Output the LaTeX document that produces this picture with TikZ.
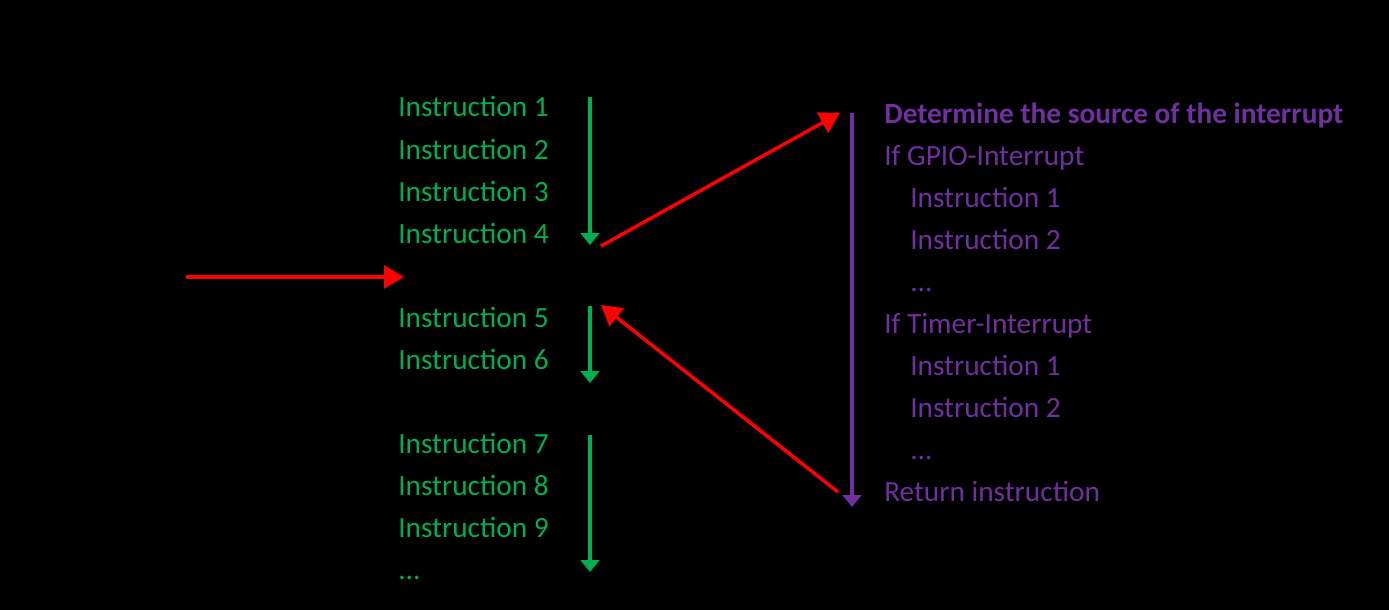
\documentclass[tikz,border=0pt]{standalone}
\usepackage{fontspec}
\setmainfont{Carlito}
\usetikzlibrary{arrows.meta}
\definecolor{instrgreen}{RGB}{0,176,80}
\definecolor{isrpurple}{RGB}{112,48,160}
\definecolor{irqred}{RGB}{255,0,0}
\tikzset{
	instr/.style={anchor=base west, inner sep=0pt, text=instrgreen, font=\fontsize{22}{26}\selectfont},
	isr/.style={anchor=base west, inner sep=0pt, text=isrpurple, font=\fontsize{22}{26}\selectfont},
	flow/.style={line width=3.6pt, -{Triangle[width=14pt,length=9pt]}},
	jump/.style={irqred, line width=2.6pt, -{Triangle[width=17pt,length=15pt]}}
}

\begin{document}
\begin{tikzpicture}[x=0.75pt,y=-0.75pt]
	% background
	\fill[black] (0,0) rectangle (1389,610);
	\useasboundingbox (0,0) rectangle (1389,610);
	
	% main program
	\foreach \n/\y in {1/117,2/159,3/201,4/243,5/327,6/369,7/453,8/495,9/537}
	\node[instr] (i\n) at (398,\y) {Instruction \n};
	\node[instr] (idots) at (398,579) {...};
	
	% interrupt service routine
	\node[isr, font=\fontsize{22}{26}\selectfont\bfseries] (src) at (884,123) {Determine the source of the interrupt};
	\node[isr] (gpio) at (884,165) {If GPIO-Interrupt};
	\node[isr] (g1) at (910,207) {Instruction 1};
	\node[isr] (g2) at (910,249) {Instruction 2};
	\node[isr] (gdots) at (910,291) {...};
	\node[isr] (timer) at (884,333) {If Timer-Interrupt};
	\node[isr] (t1) at (910,375) {Instruction 1};
	\node[isr] (t2) at (910,417) {Instruction 2};
	\node[isr] (tdots) at (910,459) {...};
	\node[isr] (ret) at (884,501) {Return instruction};
	
	% arrow ends
	\coordinate (flowA) at (590,97);
	\coordinate (flowB) at (590,245);
	\coordinate (flowC) at (590,306);
	\coordinate (flowD) at (590,383);
	\coordinate (flowE) at (590,435);
	\coordinate (flowF) at (590,572);
	\coordinate (isrA) at (852,113);
	\coordinate (isrB) at (852,507);
	\coordinate (irqA) at (186,277);
	\coordinate (irqB) at (404,277);
	\coordinate (callA) at (601,246);
	\coordinate (callB) at (840,113);
	\coordinate (backA) at (838,492);
	\coordinate (backB) at (601,305);
	
	% draw arrows
	\draw[flow, instrgreen] (flowA) -- (flowB);
	\draw[flow, instrgreen] (flowC) -- (flowD);
	\draw[flow, instrgreen] (flowE) -- (flowF);
	\draw[flow, isrpurple] (isrA) -- (isrB);
	\draw[jump] (irqA) -- (irqB);
	\draw[jump] (callA) -- (callB);
	\draw[jump] (backA) -- (backB);
\end{tikzpicture}
\end{document}
